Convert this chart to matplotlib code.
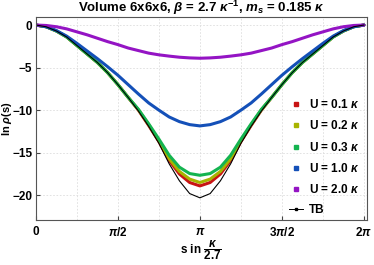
import numpy as np
import matplotlib.pyplot as plt
from matplotlib.lines import Line2D
from matplotlib.ticker import MultipleLocator

plt.rcParams['font.family'] = 'Liberation Sans'
plt.rcParams['font.weight'] = 'bold'
plt.rcParams['axes.labelweight'] = 'bold'
plt.rcParams['axes.titleweight'] = 'bold'
plt.rcParams['mathtext.fontset'] = 'custom'
plt.rcParams['mathtext.rm'] = 'Liberation Sans:bold'
plt.rcParams['mathtext.it'] = 'Liberation Sans:bold:italic'
plt.rcParams['mathtext.bf'] = 'Liberation Sans:bold'

# s in units of pi/16, 0 .. 2pi
k = np.arange(33)
s = np.pi * k / 16

# ln rho(s)
rho_u01 = [0, -0.2, -0.7, -1.4, -2.4, -3.4, -4.4, -5.6, -7.0, -8.5, -10.0, -11.8, -13.7, -15.9, -17.5, -18.5,
           -18.9,
           -18.5, -17.5, -15.9, -13.7, -11.8, -10.0, -8.5, -7.0, -5.6, -4.4, -3.4, -2.4, -1.4, -0.7, -0.2, 0]
rho_u02 = [0, -0.2, -0.7, -1.4, -2.4, -3.4, -4.4, -5.6, -7.0, -8.5, -9.95, -11.7, -13.6, -15.7, -17.2, -18.1,
           -18.5,
           -18.1, -17.2, -15.7, -13.6, -11.7, -9.95, -8.5, -7.0, -5.6, -4.4, -3.4, -2.4, -1.4, -0.7, -0.2, 0]
rho_u03 = [0, -0.2, -0.7, -1.4, -2.4, -3.4, -4.4, -5.6, -7.0, -8.5, -9.9, -11.6, -13.4, -15.3, -16.7, -17.45,
           -17.65,
           -17.45, -16.7, -15.3, -13.4, -11.6, -9.9, -8.5, -7.0, -5.6, -4.4, -3.4, -2.4, -1.4, -0.7, -0.2, 0]
rho_u10 = [0, -0.2, -0.65, -1.3, -2.15, -3.05, -3.95, -4.9, -5.9, -7.0, -8.1, -9.15, -10.0, -10.8, -11.35, -11.7,
           -11.85,
           -11.7, -11.35, -10.8, -10.0, -9.15, -8.1, -7.0, -5.9, -4.9, -3.95, -3.05, -2.15, -1.3, -0.65, -0.2, 0]
rho_u20 = [0, -0.05, -0.2, -0.45, -0.8, -1.15, -1.55, -1.95, -2.3, -2.7, -3.0, -3.3, -3.5, -3.65, -3.78, -3.86,
           -3.9,
           -3.86, -3.78, -3.65, -3.5, -3.3, -3.0, -2.7, -2.3, -1.95, -1.55, -1.15, -0.8, -0.45, -0.2, -0.05, 0]
rho_tb = [0, -0.2, -0.7, -1.4, -2.4, -3.4, -4.4, -5.6, -7.0, -8.5, -10.1, -11.9, -13.9, -16.3, -18.3, -19.8,
          -20.3,
          -19.8, -18.3, -16.3, -13.9, -11.9, -10.1, -8.5, -7.0, -5.6, -4.4, -3.4, -2.4, -1.4, -0.7, -0.2, 0]

labels = [r'U = 0.1 $\kappa$', r'U = 0.2 $\kappa$', r'U = 0.3 $\kappa$',
          r'U = 1.0 $\kappa$', r'U = 2.0 $\kappa$']
colors = ['#c81414', '#a8b400', '#14b450', '#1450b8', '#9414c4']
series = [rho_u01, rho_u02, rho_u03, rho_u10, rho_u20]

fig = plt.figure(figsize=(3.74, 2.65), dpi=100)
ax = fig.add_axes([0.096, 0.170, 0.885, 0.766])

for y, c in zip(series, colors):
    ax.plot(s, y, color=c, lw=2.2, solid_capstyle='round', solid_joinstyle='round')
ax.plot(s, rho_tb, color='black', lw=0.8)

ax.set_xlim(0, 6.34)
ax.set_ylim(-22.9, 0.95)
ax.set_xticks(np.pi * np.array([0, 0.5, 1, 1.5, 2]))
ax.set_xticklabels(['0', r'$\pi$/2', r'$\pi$', r'3$\pi$/2', r'2$\pi$'])
ax.xaxis.set_minor_locator(MultipleLocator(np.pi / 4))
ax.set_yticks([0, -5, -10, -15, -20])
ax.tick_params(labelsize=8.5, length=3, direction='in', colors='#444444', labelcolor='black', pad=2.5)
ax.tick_params(axis='x', pad=4)
ax.tick_params(which='minor', length=0)
ax.grid(True, which='both', ls=(0, (2, 2)), color='#dddddd', lw=0.6)
for sp in ax.spines.values():
    sp.set_color('#555555')
    sp.set_linewidth(0.8)

ax.set_title(r'Volume 6x6x6, $\beta$ = 2.7 $\kappa^{-1}$, $m_s$ = 0.185 $\kappa$',
             fontsize=9.5, pad=3)
ax.set_ylabel(r'ln $\rho$(s)', fontsize=8)
ax.yaxis.set_label_coords(-0.066, 0.5)
ax.set_xlabel(r's in $\dfrac{\kappa}{2.7}$', fontsize=8.5, labelpad=0)

handles = [Line2D([], [], color=c, marker='s', ms=3, ls='none') for c in colors]
handles.append(Line2D([], [], color='black', marker='s', ms=2, lw=0.7))
leg = ax.legend(handles, labels + ['TB'], loc='lower right', frameon=False, fontsize=8.5,
                handlelength=1.2, handletextpad=0.5, labelspacing=0.7,
                bbox_to_anchor=(1.01, -0.035))

fig.savefig('out.png', dpi=100)
